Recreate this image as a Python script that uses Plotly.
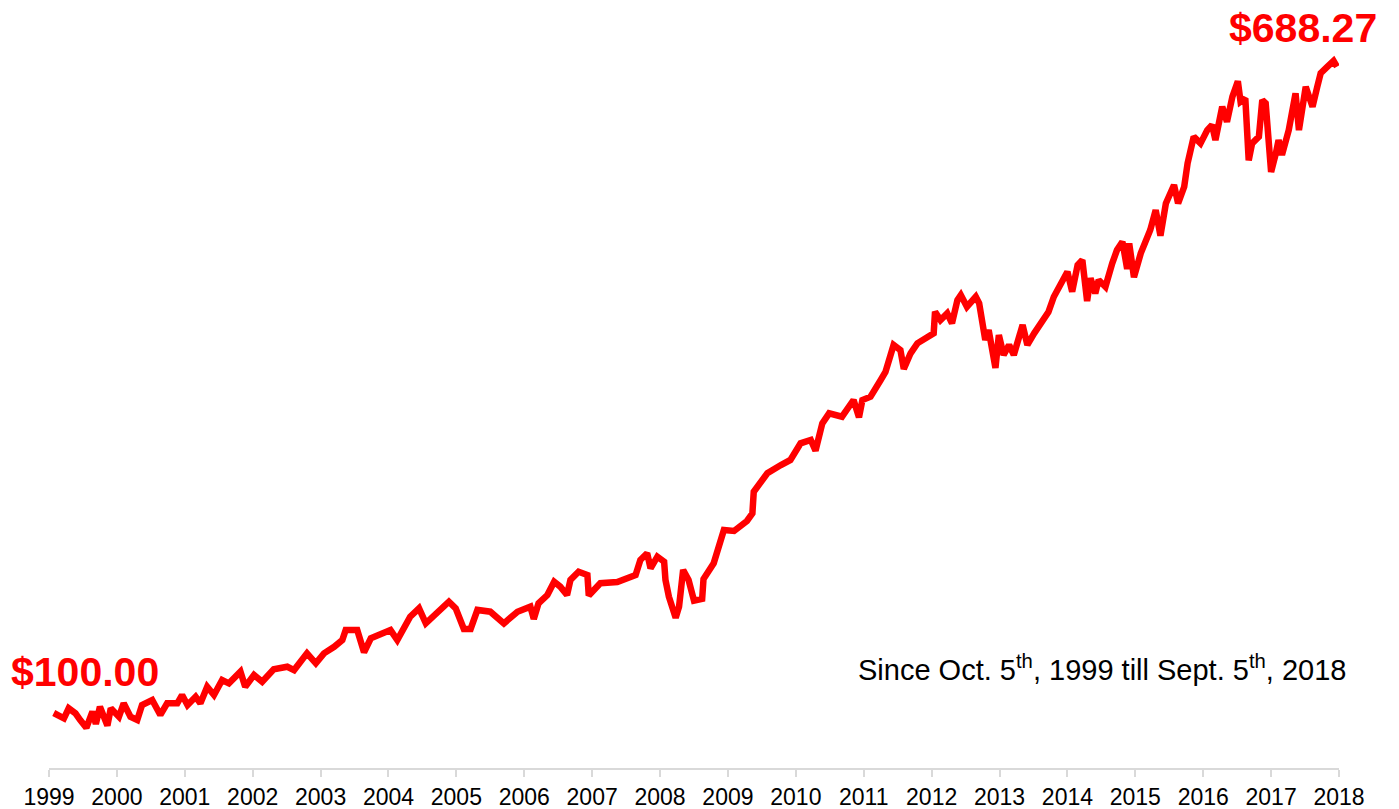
import plotly.graph_objects as go

# Time position (fractional year on the category-like axis) and portfolio value ($)
t = [1999.07, 1999.22, 1999.29, 1999.39, 1999.46, 1999.55, 1999.64, 1999.69, 1999.75, 1999.86,
     1999.91, 2000.03, 2000.10, 2000.20, 2000.30, 2000.37, 2000.52, 2000.64, 2000.74, 2000.89,
     2000.96, 2001.04, 2001.16, 2001.23, 2001.33, 2001.43, 2001.55, 2001.65, 2001.82, 2001.89,
     2002.02, 2002.14, 2002.31, 2002.51, 2002.61, 2002.80, 2002.93, 2003.05, 2003.20, 2003.32,
     2003.37, 2003.54, 2003.64, 2003.74, 2004.03, 2004.13, 2004.32, 2004.45, 2004.55, 2004.67,
     2004.89, 2004.99, 2005.11, 2005.21, 2005.31, 2005.50, 2005.70, 2005.90, 2006.09, 2006.14,
     2006.21, 2006.34, 2006.44, 2006.53, 2006.63, 2006.68, 2006.80, 2006.93, 2006.95, 2007.12,
     2007.37, 2007.64, 2007.71, 2007.81, 2007.86, 2007.96, 2008.06, 2008.08, 2008.13, 2008.23,
     2008.28, 2008.34, 2008.42, 2008.50, 2008.62, 2008.64, 2008.79, 2008.94, 2009.09, 2009.28,
     2009.36, 2009.38, 2009.51, 2009.58, 2009.78, 2009.92, 2010.07, 2010.22, 2010.29, 2010.39,
     2010.49, 2010.68, 2010.85, 2010.93, 2010.98, 2011.10, 2011.25, 2011.32, 2011.44, 2011.54,
     2011.59, 2011.69, 2011.79, 2011.94, 2012.03, 2012.05, 2012.13, 2012.23, 2012.30, 2012.38,
     2012.43, 2012.52, 2012.65, 2012.70, 2012.75, 2012.79, 2012.84, 2012.89, 2012.94, 2012.99,
     2013.06, 2013.14, 2013.21, 2013.34, 2013.41, 2013.51, 2013.60, 2013.72, 2013.80, 2013.90,
     2014.00, 2014.07, 2014.15, 2014.22, 2014.29, 2014.34, 2014.41, 2014.46, 2014.56, 2014.66,
     2014.73, 2014.81, 2014.88, 2014.91, 2014.98, 2015.08, 2015.22, 2015.30, 2015.37, 2015.45,
     2015.57, 2015.63, 2015.72, 2015.77, 2015.86, 2015.96, 2016.06, 2016.13, 2016.18, 2016.28,
     2016.35, 2016.43, 2016.51, 2016.55, 2016.62, 2016.67, 2016.72, 2016.82, 2016.87, 2016.92,
     2016.97, 2017.00, 2017.07, 2017.11, 2017.16, 2017.26, 2017.36, 2017.41, 2017.51, 2017.61,
     2017.68, 2017.73, 2017.83, 2017.92, 2017.97]

value = [100.0, 95.2, 104.3, 99.7, 93.6, 86.5, 101.2, 90.1, 105.7, 88.5,
         104.3, 96.6, 108.8, 96.6, 93.6, 107.3, 111.8, 98.2, 108.8, 108.8,
         116.4, 107.3, 114.8, 108.8, 123.9, 116.4, 130.0, 127.0, 137.6, 123.9,
         134.6, 128.5, 139.8, 142.1, 139.1, 154.3, 145.2, 154.3, 160.3, 166.4,
         175.5, 175.5, 155.3, 168.0, 175.5, 166.4, 187.7, 195.3, 181.6, 189.2,
         201.3, 195.3, 176.5, 176.5, 193.8, 192.2, 181.6, 192.2, 196.8, 185.6,
         199.8, 207.4, 219.5, 215.0, 207.4, 221.1, 228.6, 225.6, 206.9, 218.1,
         219.2, 225.6, 239.3, 245.4, 231.7, 242.3, 237.7, 221.1, 205.9, 186.6,
         196.8, 230.2, 221.1, 202.3, 203.9, 222.0, 236.3, 266.6, 265.7, 274.8,
         281.8, 301.4, 312.1, 318.2, 325.7, 330.3, 345.5, 348.5, 338.8, 363.7,
         372.8, 369.7, 384.9, 369.2, 384.9, 387.9, 403.1, 410.4, 435.0, 430.4,
         413.2, 427.4, 436.5, 442.5, 445.6, 465.3, 457.7, 463.8, 454.7, 475.9,
         480.5, 469.8, 478.9, 472.9, 454.7, 439.5, 448.6, 430.4, 414.2, 444.1,
         425.9, 435.0, 425.9, 453.2, 435.0, 445.6, 454.7, 465.0, 478.9, 491.1,
         501.7, 483.5, 507.8, 512.3, 474.9, 495.7, 482.0, 494.1, 488.0, 509.3,
         521.4, 529.0, 504.2, 527.5, 496.7, 518.4, 539.6, 557.8, 534.5, 563.9,
         580.6, 563.9, 579.0, 600.3, 624.6, 618.5, 630.6, 635.2, 621.5, 651.9,
         638.2, 661.0, 675.0, 656.4, 659.5, 603.0, 618.5, 624.6, 658.0, 655.0,
         624.6, 592.5, 609.4, 621.5, 607.9, 630.6, 664.1, 630.6, 670.1, 651.9,
         670.1, 682.3, 688.3, 693.5, 688.27]

years = list(range(1999, 2019))
year_labels = [str(y) for y in years]

start_label = "$100.00"
end_label = "$688.27"
period_label = "Since Oct. 5<sup>th</sup>, 1999 till Sept. 5<sup>th</sup>, 2018"

FONT = "Liberation Sans, Arial, sans-serif"
RED = "#FF0000"

fig = go.Figure()
fig.add_trace(go.Scatter(
    x=t, y=value, mode="lines",
    line=dict(color=RED, width=6.5),
    hoverinfo="skip", showlegend=False, cliponaxis=False,
))

# The page body adds an 8px offset, so the figure is 8px smaller and margins shifted.
fig.update_layout(
    width=1391, height=801,
    margin=dict(l=41, r=60, t=2, b=41, autoexpand=False),
    paper_bgcolor="white", plot_bgcolor="white",
    font=dict(family=FONT, color="black"),
    xaxis=dict(
        range=[1999, 2018],
        tickmode="array", tickvals=years, ticktext=year_labels,
        showline=True, linecolor="#d9d9d9", linewidth=2,
        ticks="outside", ticklen=7, tickwidth=2, tickcolor="#d9d9d9",
        showgrid=False, zeroline=False, automargin=False,
        tickfont=dict(family=FONT, size=23, color="black"),
        fixedrange=True,
    ),
    yaxis=dict(range=[49.94, 739.9], visible=False, fixedrange=True),
    annotations=[
        dict(text="<b>" + start_label + "</b>", xref="paper", yref="paper",
             x=(85 - 49) / 1290, y=(768 - 672) / 758, xanchor="center", yanchor="middle",
             showarrow=False, borderpad=0, font=dict(family=FONT, size=41, color=RED)),
        dict(text="<b>" + end_label + "</b>", xref="paper", yref="paper",
             x=(1303 - 49) / 1290, y=(768 - 28) / 758, xanchor="center", yanchor="middle",
             showarrow=False, borderpad=0, font=dict(family=FONT, size=41, color=RED)),
        dict(text=period_label, xref="paper", yref="paper",
             x=(1102 - 49) / 1290, y=(768 - 668) / 758, xanchor="center", yanchor="middle",
             showarrow=False, font=dict(family=FONT, size=29, color="black")),
    ],
)

fig.write_html("out.html")
